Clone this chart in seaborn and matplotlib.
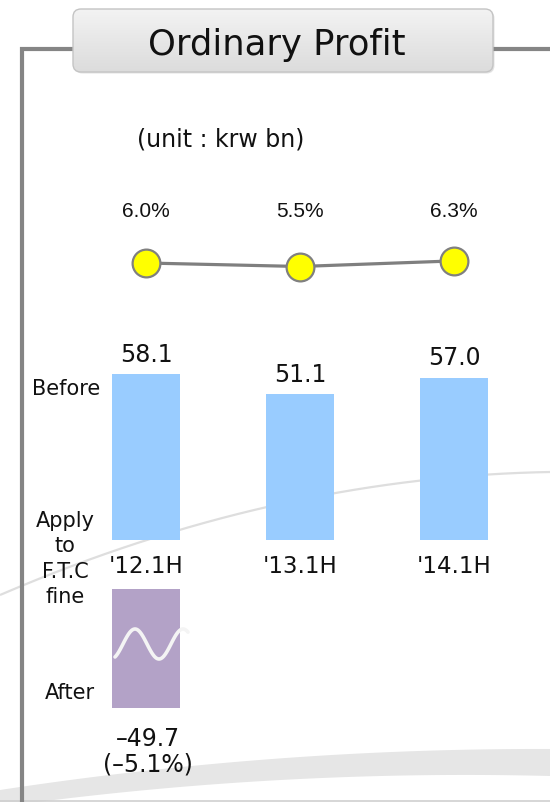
import numpy as np
import matplotlib
matplotlib.use("Agg")
import matplotlib.pyplot as plt
from matplotlib.patches import FancyBboxPatch
import seaborn as sns

# ---- data ----
periods = ["'12.1H", "'13.1H", "'14.1H"]
profit_before = [58.1, 51.1, 57.0]          # krw bn
profit_margin = [6.0, 5.5, 6.3]             # %
profit_after = [-49.7]                       # '12.1H after F.T.C fine
after_margin = [-5.1]                        # %

sns.set_theme(style="white")
plt.rcParams["font.family"] = ["DejaVu Sans"]

W, H = 550, 803
fig = plt.figure(figsize=(W / 100, H / 100), dpi=100)
fig.patch.set_facecolor("white")


def rect(left, top, width, height):
    """Figure rectangle given in pixels from the top-left corner."""
    return [left / W, 1 - (top + height) / H, width / W, height / H]


# ---- background decoration (pixel coordinates) ----
bg = fig.add_axes([0, 0, 1, 1], zorder=0)
bg.set_xlim(0, W)
bg.set_ylim(H, 0)
bg.axis("off")

xs = np.linspace(0, W, 200)
arc = np.poly1d(np.polyfit([0, 250, 550], [596, 512, 473], 2))
bg.plot(xs, arc(xs), color="#dedede", lw=1.6, solid_capstyle="butt")
band_top = np.poly1d(np.polyfit([0, 300, 550], [791, 758, 750], 2))
band_bot = np.poly1d(np.polyfit([0, 300, 550], [808, 780, 777], 2))
bg.fill_between(xs, band_top(xs), band_bot(xs), color="#e6e6e6", lw=0)
bg.plot([0, W], [801.5, 801.5], color="#cfcfcf", lw=1.2)

frame_kw = dict(color="#858585", lw=3.0, solid_capstyle="butt", solid_joinstyle="miter")
bg.plot([22, 22, 75], [H, 50, 50], **frame_kw)
bg.plot([492, W], [50, 50], **frame_kw)

# title box with a soft vertical gradient
shadow = FancyBboxPatch((74.5, 11.5), 420, 63, boxstyle="round,pad=0,rounding_size=8",
                        fc="#d0d0d0", ec="none", alpha=0.6)
bg.add_patch(shadow)
box = FancyBboxPatch((73, 10), 420, 63, boxstyle="round,pad=0,rounding_size=8",
                     fc="none", ec="#c4c4c4", lw=1.0, zorder=3)
bg.add_patch(box)
grad = np.linspace(0, 1, 64).reshape(-1, 1)
cmap = matplotlib.colors.LinearSegmentedColormap.from_list(
    "box", ["#f3f3f3", "#e7e7e7", "#dcdcdc"])
im = bg.imshow(grad, cmap=cmap, extent=[73, 493, 73, 10], origin="upper",
               aspect="auto", zorder=2)
im.set_clip_path(box)
bg.set_xlim(0, W)
bg.set_ylim(H, 0)
bg.text(277, 45, "Ordinary Profit", ha="center", va="center", fontsize=25.5,
        color="#111111", zorder=4)
bg.text(221, 140, "(unit : krw bn)", ha="center", va="center", fontsize=17,
        color="#111111")

# ---- margin line ----
ax_line = fig.add_axes(rect(69, 222, 462, 84), zorder=2)
ax_line.patch.set_alpha(0)
sns.lineplot(x=periods, y=profit_margin, ax=ax_line, color="#7f7f7f", lw=2.3,
             marker="o", markersize=20, markerfacecolor="#ffff00",
             markeredgecolor="#808080", markeredgewidth=1.6)
ax_line.set_xlim(-0.5, 2.5)
ax_line.set_ylim(0, 12)
ax_line.axis("off")
for i, m in enumerate(profit_margin):
    ax_line.text(i, 1.13, f"{m:.1f}%", transform=ax_line.get_xaxis_transform(),
                 ha="center", va="center", fontsize=15,
                 family=["Liberation Sans", "DejaVu Sans"], color="#111111")

# ---- profit bars (before) ----
ax_bar = fig.add_axes(rect(69, 541 - 171, 462, 171), zorder=2)
ax_bar.patch.set_alpha(0)
sns.barplot(x=periods, y=profit_before, ax=ax_bar, color="#99ccff",
            saturation=1, width=0.44, edgecolor="none")
ax_bar.set_xlim(-0.5, 2.5)
ax_bar.set_ylim(0, 60)
ax_bar.axis("off")
ax_bar.bar_label(ax_bar.containers[0], fmt="%.1f", padding=6, fontsize=17,
                 color="#111111")
for i, p in enumerate(periods):
    ax_bar.annotate(p, (i, 0), xytext=(0, -10), textcoords="offset points",
                    ha="center", va="top", fontsize=16.5, color="#111111",
                    annotation_clip=False)

# ---- profit bar (after fine) ----
ax_after = fig.add_axes(rect(69, 590, 462, 120), zorder=2)
ax_after.patch.set_alpha(0)
sns.barplot(x=periods[:1], y=profit_after, order=periods, ax=ax_after,
            color="#b3a2c7", saturation=1, width=0.44, edgecolor="none")
ax_after.set_xlim(-0.5, 2.5)
ax_after.set_ylim(-50.2, 0)
ax_after.axis("off")
ax_after.annotate(f"{profit_after[0]:.1f}\n({after_margin[0]:.1f}%)".replace("-", "\u2013"),
                  (0, profit_after[0]), xytext=(1.5, -13), textcoords="offset points",
                  ha="center", va="top", fontsize=17, linespacing=1.1,
                  color="#111111", annotation_clip=False)

# ---- overlay: axis break wave and row captions ----
top = fig.add_axes([0, 0, 1, 1], zorder=5)
top.set_xlim(0, W)
top.set_ylim(H, 0)
top.axis("off")
wx = np.linspace(115, 188, 120)
top.plot(wx, 645 - 15 * np.sin(2 * np.pi * (wx - 123) / 48), color="#f4f4f4",
         lw=2.6, solid_capstyle="round")
cap_kw = dict(ha="center", va="center", fontsize=15, color="#111111")
top.text(66, 389, "Before", **cap_kw)
top.text(65, 559, "Apply\nto\nF.T.C\nfine", linespacing=1.32, **cap_kw)
top.text(70, 693, "After", **cap_kw)

fig.savefig("out.png", dpi=100, facecolor="white")
